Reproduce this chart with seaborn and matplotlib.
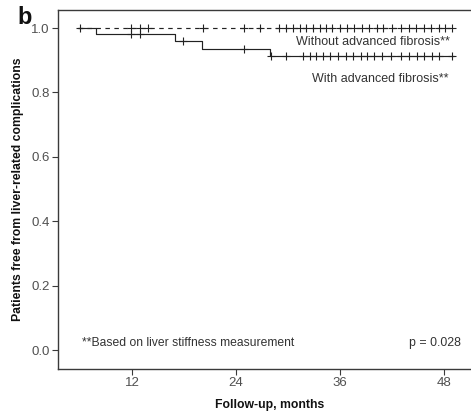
import numpy as np
import pandas as pd
import matplotlib
matplotlib.use("Agg")
import matplotlib.pyplot as plt
import seaborn as sns

# Kaplan-Meier step curves (time in months, cumulative survival)
without_times = [5.8, 49.15]
without_surv = [1.0, 1.0]
with_times = [5.8, 7.85, 17.0, 20.1, 27.9, 49.15]
with_surv = [1.0, 0.98, 0.959, 0.936, 0.912, 0.912]

# Censored observations
without_censored = [6.0, 11.9, 12.9, 13.8, 20.2, 24.9, 26.8,
                    28.96, 29.77, 30.58, 31.38, 32.08, 32.88, 33.69, 34.38,
                    35.08, 36.0, 36.81, 37.62, 38.54, 39.35, 40.27, 40.96,
                    42.0, 43.04, 43.96, 44.77, 45.69, 46.5, 47.42, 48.12, 48.92]
with_censored = [11.9, 12.9, 17.9, 24.9, 28.04, 29.77, 31.73, 32.54, 33.23,
                 34.04, 34.85, 35.77, 36.69, 37.5, 38.42, 39.12, 39.92, 40.85,
                 41.88, 43.04, 43.96, 44.88, 45.69, 46.62, 47.42, 48.92]

x_ticks = [12, 24, 36, 48]
y_ticks = [0.0, 0.2, 0.4, 0.6, 0.8, 1.0]

sns.set_style("ticks")
plt.rcParams["font.family"] = ["Liberation Sans", "DejaVu Sans"]

fig = plt.figure(figsize=(4.71, 4.19), dpi=100)
ax = fig.add_axes([58 / 471, 50 / 419, 424 / 471, 359 / 419])

line_col = "#222222"
curves = pd.concat([
    pd.DataFrame({"time": without_times, "surv": without_surv, "group": "without"}),
    pd.DataFrame({"time": with_times, "surv": with_surv, "group": "with"}),
])

sns.lineplot(data=curves[curves.group == "without"], x="time", y="surv",
             estimator=None, drawstyle="steps-post", color=line_col,
             linewidth=0.85, linestyle=(0, (3.8, 3.8)), ax=ax)
sns.lineplot(data=curves[curves.group == "with"], x="time", y="surv",
             estimator=None, drawstyle="steps-post", color=line_col,
             linewidth=0.85, ax=ax)


def step_value(times, surv, t):
    idx = np.searchsorted(times, t, side="right") - 1
    return np.asarray(surv)[idx]


for times, surv, cens in [(without_times, without_surv, without_censored),
                          (with_times, with_surv, with_censored)]:
    cy = step_value(np.asarray(times), surv, np.asarray(cens))
    ax.plot(cens, cy, linestyle="none", marker="+", markersize=5.5,
            markeredgewidth=0.8, color=line_col)

ax.set_xlim(3.46, 52.4)
ax.set_ylim(-0.059, 1.056)
ax.set_xticks(x_ticks)
ax.set_xticklabels([str(t) for t in x_ticks])
ax.set_yticks(y_ticks)
ax.set_yticklabels([f"{t:.1f}" for t in y_ticks])

spine_col = "#3a3a3a"
for side in ["left", "bottom", "top"]:
    ax.spines[side].set_visible(True)
    ax.spines[side].set_color(spine_col)
    ax.spines[side].set_linewidth(1.0)
ax.spines["right"].set_visible(False)

ax.tick_params(axis="both", direction="out", length=4, width=0.8,
               color=spine_col, labelcolor="#505050", labelsize=9.5, pad=2)

ax.set_xlabel("Follow-up, months", fontsize=8.8, fontweight="bold",
              color="#111111", labelpad=7)
ax.set_ylabel("Patients free from liver-related complications", fontsize=8.8,
              fontweight="bold", color="#111111", labelpad=5)

txt_col = "#333333"
ax.text(48.7, 0.957, "Without advanced fibrosis**", ha="right", va="center",
        fontsize=9.0, color=txt_col)
ax.text(48.5, 0.842, "With advanced fibrosis**", ha="right", va="center",
        fontsize=9.0, color=txt_col)
ax.text(6.2, 0.023, "**Based on liver stiffness measurement", ha="left",
        va="center", fontsize=8.7, color=txt_col)
ax.text(50.0, 0.023, "p = 0.028", ha="right", va="center", fontsize=8.9,
        color=txt_col)

fig.text(25 / 471, 1 - 18 / 419, "b", ha="center", va="center",
         fontsize=17, fontweight="bold", color="#111111")

fig.savefig("out.png", dpi=100)
